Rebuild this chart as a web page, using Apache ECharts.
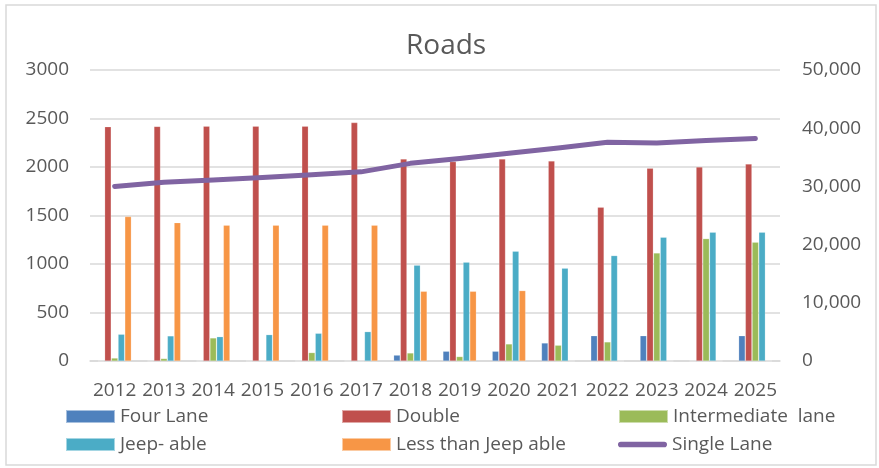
<!DOCTYPE html>
<html>
<head>
<meta charset="utf-8">
<script src="https://cdn.jsdelivr.net/npm/echarts@6/dist/echarts.min.js"></script>
<style>
  html, body { margin: 0; padding: 0; background: #fff; }
  #chart { width: 879px; height: 468px; }
</style>
</head>
<body>
<div id="chart"></div>
<script>
// values
const years = ['2012', '2013', '2014', '2015', '2016', '2017', '2018', '2019', '2020', '2021', '2022', '2023', '2024', '2025'];
const fourLane = [0, 0, 0, 0, 0, 0, 60, 100, 100, 185, 260, 260, 0, 260];
const double = [2415, 2418, 2420, 2420, 2420, 2457, 2082, 2055, 2082, 2062, 1584, 1986, 2000, 2031];
const intermediate = [30, 25, 237, 0, 86, 0, 82, 45, 175, 162, 196, 1113, 1261, 1224];
const jeepAble = [275, 258, 250, 271, 285, 302, 987, 1018, 1131, 956, 1086, 1275, 1327, 1327];
const lessThanJeep = [1488, 1426, 1399, 1399, 1399, 1399, 718, 718, 725, 0, 0, 0, 0, 0];
const singleLane = [30000, 30700, 31100, 31550, 32000, 32500, 33960, 34800, 35700, 36600, 37570, 37450, 37900, 38250];

const FONT = 'Open Sans';
const TEXT = '#595959';
const GRID = '#D9D9D9';
// thick rounded stroke used as the line's legend key
const LINE_ICON = 'path://M3,0 L49,0 A3,3 0 0 1 49,6 L3,6 A3,3 0 0 1 3,0 Z';

const chart = echarts.init(document.getElementById('chart'));

function bar(name, data, color) {
  return {
    name: name,
    type: 'bar',
    data: data,
    barWidth: 6.4,
    barGap: '5%',
    itemStyle: { color: color, borderColor: 'rgba(255,255,255,0.5)', borderWidth: 0.4 }
  };
}

// one legend per entry, placed in a 3 x 2 layout like the original
function legendItem(left, top, name, icon) {
  return {
    left: left,
    top: top,
    padding: 0,
    itemWidth: 49,
    itemHeight: 13,
    itemGap: 5,
    textStyle: { fontFamily: FONT, fontSize: 19, color: TEXT },
    data: [{ name: name, icon: icon }]
  };
}

chart.setOption({
  animation: false,
  title: {
    text: 'Roads',
    left: 401,
    top: 27,
    textStyle: { fontFamily: FONT, fontSize: 28, fontWeight: 'normal', color: TEXT }
  },
  graphic: [{
    type: 'rect',
    shape: { x: 6, y: 5, width: 870, height: 460 },
    style: { fill: null, stroke: GRID, lineWidth: 1.5 },
    silent: true
  }],
  legend: [
    legendItem(65, 407, 'Four Lane', 'rect'),
    legendItem(341, 407, 'Double', 'rect'),
    legendItem(618, 407, 'Intermediate  lane', 'rect'),
    legendItem(65, 435, 'Jeep- able', 'rect'),
    legendItem(341, 435, 'Less than Jeep able', 'rect'),
    legendItem(618, 435, 'Single Lane', LINE_ICON)
  ],
  grid: { left: 90, right: 99, top: 70, bottom: 107 },
  xAxis: {
    type: 'category',
    data: years,
    axisLine: { lineStyle: { color: GRID, width: 1.5 } },
    axisTick: { show: false },
    axisLabel: { fontFamily: FONT, fontSize: 19, color: TEXT, margin: 20, interval: 0 }
  },
  yAxis: [{
    type: 'value',
    min: 0,
    max: 3000,
    interval: 500,
    axisLine: { show: false },
    axisTick: { show: false },
    splitLine: { lineStyle: { color: GRID, width: 1.5 } },
    axisLabel: { fontFamily: FONT, fontSize: 19, color: TEXT, margin: 21, formatter: (v) => String(v) }
  }, {
    type: 'value',
    min: 0,
    max: 50000,
    interval: 10000,
    axisLine: { show: false },
    axisTick: { show: false },
    splitLine: { show: false },
    axisLabel: {
      fontFamily: FONT, fontSize: 19, color: TEXT, margin: 22,
      formatter: (v) => v.toLocaleString('en-US')
    }
  }],
  series: [
    bar('Four Lane', fourLane, '#4F81BD'),
    bar('Double', double, '#C0504D'),
    bar('Intermediate  lane', intermediate, '#9BBB59'),
    bar('Jeep- able', jeepAble, '#4BACC6'),
    bar('Less than Jeep able', lessThanJeep, '#F79646'),
    {
      name: 'Single Lane',
      type: 'line',
      yAxisIndex: 1,
      data: singleLane,
      symbol: 'none',
      itemStyle: { color: '#8064A2' },
      lineStyle: { color: '#8064A2', width: 5, cap: 'round', join: 'round' }
    }
  ]
});
</script>
</body>
</html>
